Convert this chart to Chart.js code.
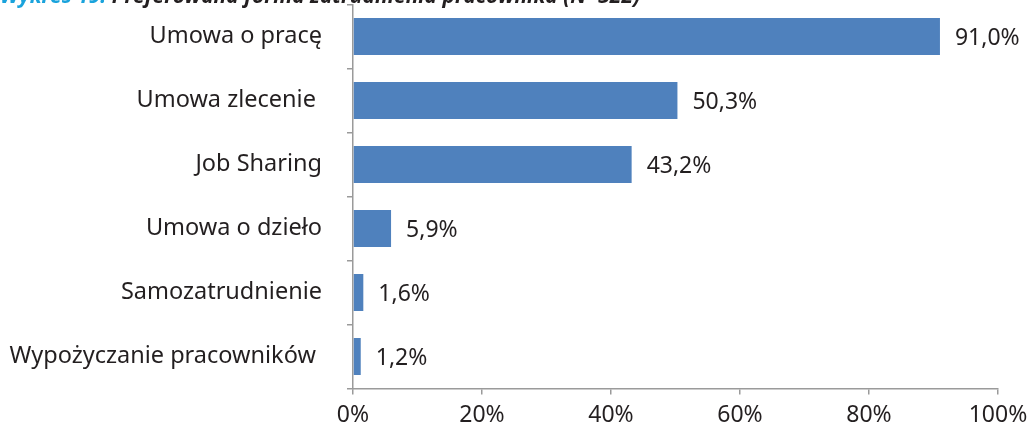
<!DOCTYPE html>
<html>
<head>
<meta charset="utf-8">
<script src="https://cdn.jsdelivr.net/npm/chart.js@4/dist/chart.umd.min.js"></script>
<style>
  html, body { margin: 0; padding: 0; background: #fff; }
  #wrap { width: 1033px; height: 430px; position: relative; }
</style>
</head>
<body>
<div id="wrap"><canvas id="c" width="1033" height="430"></canvas></div>
<script>
// Preferred form of employment (share of respondents)
const categories = [
  'Umowa o pracę',
  'Umowa zlecenie ',
  'Job Sharing',
  'Umowa o dzieło',
  'Samozatrudnienie',
  'Wypożyczanie pracowników '
];
const shares = [91.0, 50.3, 43.2, 5.9, 1.6, 1.2];
const xTicks = [0, 20, 40, 60, 80, 100];

const FONT = '"Noto Sans", sans-serif';
const AXIS_GREY = '#9a9a9a';

const fmt = v => v.toFixed(1).replace('.', ',') + '%';

// Heading sitting at the very top edge of the canvas
const headingPlugin = {
  id: 'heading',
  afterDraw(chart) {
    const ctx = chart.ctx;
    ctx.save();
    ctx.font = 'italic bold 21px ' + FONT;
    ctx.textBaseline = 'alphabetic';
    ctx.textAlign = 'left';
    const a = 'Wykres 19. ';
    ctx.fillStyle = '#1aa3dc';
    ctx.fillText(a, 0, 3);
    const w = ctx.measureText(a).width;
    ctx.fillStyle = '#231f20';
    ctx.fillText('Preferowana forma zatrudnienia pracownika (N=322)', w, 3);
    ctx.restore();
  }
};

// Value labels to the right of each bar
const valueLabels = {
  id: 'valueLabels',
  afterDatasetsDraw(chart) {
    const ctx = chart.ctx;
    const meta = chart.getDatasetMeta(0);
    ctx.save();
    ctx.font = '23px ' + FONT;
    ctx.fillStyle = '#231f20';
    ctx.textBaseline = 'middle';
    ctx.textAlign = 'left';
    meta.data.forEach((bar, i) => {
      ctx.fillText(fmt(shares[i]), bar.x + 15, bar.y + 2);
    });
    ctx.restore();
  }
};

new Chart(document.getElementById('c'), {
  type: 'bar',
  data: {
    labels: categories,
    datasets: [{
      data: shares,
      backgroundColor: '#4f81bd',
      borderWidth: 0,
      categoryPercentage: 1.0,
      barPercentage: 0.58
    }]
  },
  options: {
    indexAxis: 'y',
    responsive: false,
    animation: false,
    layout: { padding: { top: 4.5, right: 35, left: 0, bottom: 0 } },
    plugins: {
      legend: { display: false },
      tooltip: { enabled: false }
    },
    scales: {
      x: {
        min: 0,
        max: 100,
        afterBuildTicks(scale) {
          scale.ticks = xTicks.map(v => ({ value: v }));
        },
        afterFit(scale) {
          scale.height = 41.5;
          scale.paddingLeft = 0;
          scale.paddingRight = 0;
        },
        ticks: {
          callback: v => v + '%',
          font: { family: FONT, size: 23 },
          color: '#231f20',
          padding: 7,
          maxRotation: 0
        },
        grid: {
          drawOnChartArea: false,
          drawTicks: true,
          tickLength: 6,
          color: AXIS_GREY,
          lineWidth: 1.5
        },
        border: { color: AXIS_GREY, width: 1.5 }
      },
      y: {
        afterFit(scale) {
          scale.width = 353;
          scale.paddingTop = 0;
          scale.paddingBottom = 0;
        },
        ticks: {
          font: { family: FONT, size: 23.5 },
          color: '#231f20',
          padding: 25
        },
        grid: {
          offset: true,
          drawOnChartArea: false,
          drawTicks: true,
          tickLength: 6,
          color: AXIS_GREY,
          lineWidth: 1.5
        },
        border: { color: AXIS_GREY, width: 1.5 }
      }
    }
  },
  plugins: [valueLabels, headingPlugin]
});
</script>
</body>
</html>
